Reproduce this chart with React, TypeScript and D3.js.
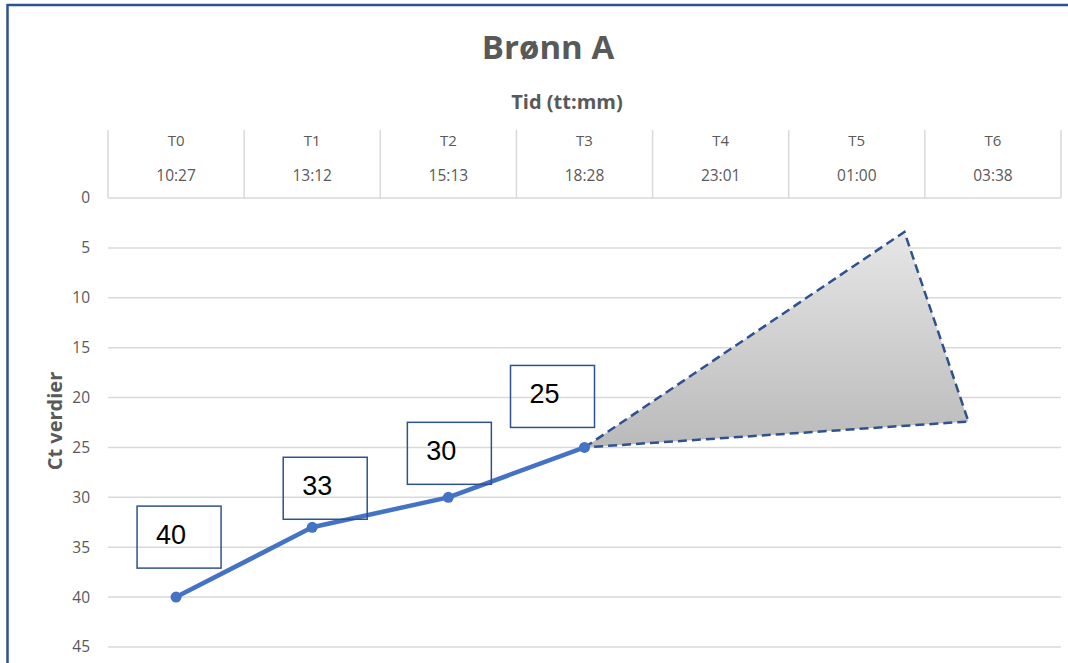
import React, { useEffect, useRef } from 'react';
import * as d3 from 'd3';

// chart data
const categories = ['T0', 'T1', 'T2', 'T3', 'T4', 'T5', 'T6'];
const times = ['10:27', '13:12', '15:13', '18:28', '23:01', '01:00', '03:38'];
const ctValues = [40, 33, 30, 25];
const yTicks = [0, 5, 10, 15, 20, 25, 30, 35, 40, 45];
// forecast triangle: [category index, Ct value]
const forecast: [number, number][] = [[3, 25], [5.35, 3.4], [5.82, 22.4]];

// label box offsets relative to each point (layout, not data)
const labelOffsets = [[-39, -91], [-29, -70], [-41, -75], [-74, -82]];

const W = 1068;
const H = 663;
const font = "'Open Sans', 'Liberation Sans', sans-serif";
const grey = '#595959';

function App() {
  const svgRef = useRef<SVGSVGElement>(null);

  useEffect(() => {
    const svg = d3.select(svgRef.current);
    svg.selectAll('*').remove();

    const left = 108;
    const right = 1061;
    const top = 198;

    const xBand = d3.scaleBand().domain(categories).range([left, right]).padding(0);
    const bw = xBand.bandwidth();
    const xIdx = d3.scaleLinear()
      .domain([0, categories.length - 1])
      .range([left + bw / 2, right - bw / 2]);
    const y = d3.scaleLinear().domain([0, 45]).range([top, top + 449]);

    // frame
    svg.append('line').attr('x1', 7).attr('x2', W).attr('y1', 5).attr('y2', 5)
      .attr('stroke', '#2F528F').attr('stroke-width', 2.5);
    svg.append('line').attr('x1', 7.5).attr('x2', 7.5).attr('y1', 4).attr('y2', H)
      .attr('stroke', '#2F528F').attr('stroke-width', 2.5);

    // title
    svg.append('text').attr('x', 548).attr('y', 59).attr('text-anchor', 'middle')
      .attr('font-family', font).attr('font-weight', 700).attr('font-size', 33)
      .attr('fill', grey).text('Brønn A');

    svg.append('text').attr('x', 567).attr('y', 109).attr('text-anchor', 'middle')
      .attr('font-family', font).attr('font-weight', 700).attr('font-size', 20)
      .attr('fill', grey).text('Tid (tt:mm)');

    svg.append('text')
      .attr('transform', `translate(62, 421) rotate(-90)`)
      .attr('text-anchor', 'middle')
      .attr('font-family', font).attr('font-weight', 700).attr('font-size', 20)
      .attr('fill', grey).text('Ct verdier');

    // gridlines + y labels
    const g = svg.append('g');
    g.selectAll('line.grid').data(yTicks).enter().append('line')
      .attr('x1', left).attr('x2', right)
      .attr('y1', (d) => y(d)).attr('y2', (d) => y(d))
      .attr('stroke', '#d9d9d9').attr('stroke-width', 1.5);
    g.selectAll('text.yt').data(yTicks).enter().append('text')
      .attr('x', 90).attr('y', (d) => y(d)).attr('dy', '0.35em')
      .attr('text-anchor', 'end')
      .attr('font-family', font).attr('font-size', 15.5).attr('fill', grey)
      .text((d) => d);

    // category axis on top
    const bounds = categories.map((c) => xBand(c) as number).concat([right]);
    g.selectAll('line.ct').data(bounds).enter().append('line')
      .attr('x1', (d) => d).attr('x2', (d) => d)
      .attr('y1', 130).attr('y2', top)
      .attr('stroke', '#d9d9d9').attr('stroke-width', 1.5);
    g.selectAll('text.cat').data(categories).enter().append('text')
      .attr('x', (d) => (xBand(d) as number) + bw / 2).attr('y', 146)
      .attr('text-anchor', 'middle')
      .attr('font-family', font).attr('font-size', 15).attr('fill', grey)
      .text((d) => d);
    g.selectAll('text.time').data(times).enter().append('text')
      .attr('x', (_d, i) => xIdx(i)).attr('y', 181)
      .attr('text-anchor', 'middle')
      .attr('font-family', font).attr('font-size', 15.5).attr('fill', grey)
      .text((d) => d);

    // forecast triangle
    const defs = svg.append('defs');
    const grad = defs.append('linearGradient').attr('id', 'tri')
      .attr('x1', 0).attr('y1', 0).attr('x2', 0).attr('y2', 1);
    grad.append('stop').attr('offset', '0%').attr('stop-color', '#e6e6e6');
    grad.append('stop').attr('offset', '100%').attr('stop-color', '#bababa');

    const tri = d3.line<[number, number]>()
      .x((d) => xIdx(d[0])).y((d) => y(d[1]))
      .curve(d3.curveLinearClosed);
    svg.append('path').attr('d', tri(forecast))
      .attr('fill', 'url(#tri)')
      .attr('stroke', '#2F528F').attr('stroke-width', 2.5)
      .attr('stroke-dasharray', '9,5');

    // series line
    const line = d3.line<number>().x((_d, i) => xIdx(i)).y((d) => y(d));
    svg.append('path').attr('d', line(ctValues))
      .attr('fill', 'none').attr('stroke', '#4472C4').attr('stroke-width', 4.5)
      .attr('stroke-linejoin', 'round');
    svg.selectAll('circle.pt').data(ctValues).enter().append('circle')
      .attr('cx', (_d, i) => xIdx(i)).attr('cy', (d) => y(d)).attr('r', 5.5)
      .attr('fill', '#4472C4');

    // label boxes
    const lab = svg.selectAll('g.lab').data(ctValues).enter().append('g')
      .attr('transform', (d, i) =>
        `translate(${xIdx(i) + labelOffsets[i][0]}, ${y(d) + labelOffsets[i][1]})`);
    lab.append('rect').attr('width', 84).attr('height', 62)
      .attr('fill', 'none').attr('stroke', '#2F528F').attr('stroke-width', 1.5);
    lab.append('text').attr('x', 19).attr('y', 38)
      .attr('font-family', "'Liberation Sans', Arial, sans-serif").attr('font-size', 27)
      .attr('fill', '#000').text((d) => d);
  }, []);

  return (
    <svg ref={svgRef} width={W} height={H}
      style={{ position: 'absolute', left: 0, top: 0, background: '#fff' }} />
  );
}

export default App;
